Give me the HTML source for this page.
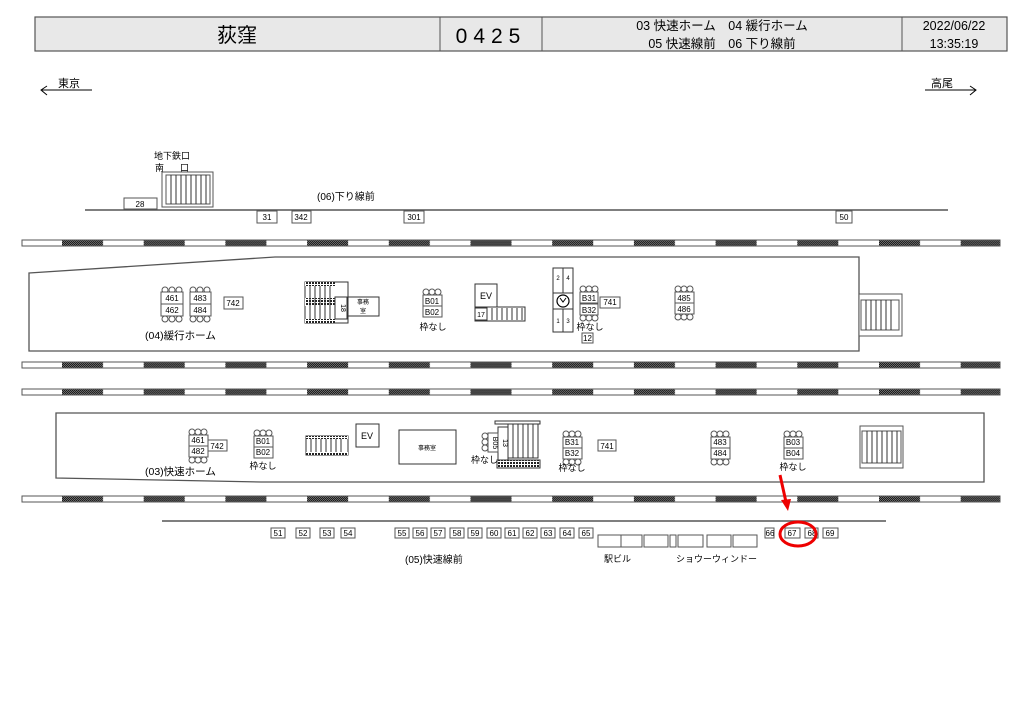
<!DOCTYPE html>
<html><head><meta charset="utf-8"><style>
html,body{margin:0;padding:0;background:#fff}
svg{display:block}
text{font-family:"Liberation Sans","Noto Sans CJK JP",sans-serif;fill:#000}
</style></head><body>
<svg width="1024" height="724" viewBox="0 0 1024 724" xmlns="http://www.w3.org/2000/svg">
<defs>
<pattern id="chk" patternUnits="userSpaceOnUse" width="2" height="2">
<rect width="2" height="2" fill="#777"/><rect width="1" height="1" fill="#111"/><rect x="1" y="1" width="1" height="1" fill="#111"/>
</pattern>
<pattern id="trk" patternUnits="userSpaceOnUse" x="62" y="0" width="81.7" height="10">
<rect x="0" y="0" width="41" height="10" fill="url(#chk)"/>
</pattern>
<pattern id="hatch" patternUnits="userSpaceOnUse" width="3" height="3">
<rect width="3" height="3" fill="#fff"/><rect width="2" height="2" fill="#222"/>
</pattern>
</defs>
<!-- header -->
<rect x="35" y="17" width="972" height="34" fill="#e8e8e8" stroke="#555" stroke-width="1.2"/>
<line x1="440" y1="17" x2="440" y2="51" stroke="#555"/>
<line x1="542" y1="17" x2="542" y2="51" stroke="#555"/>
<line x1="902" y1="17" x2="902" y2="51" stroke="#555"/>
<text x="237" y="42" font-size="20" text-anchor="middle">荻窪</text>
<text x="491" y="43" font-size="21" text-anchor="middle" letter-spacing="6">0425</text>
<text x="722" y="30" font-size="12.5" text-anchor="middle">03 快速ホーム　04 緩行ホーム</text>
<text x="722" y="48" font-size="12.5" text-anchor="middle">05 快速線前　06 下り線前</text>
<text x="954" y="30" font-size="12.5" text-anchor="middle">2022/06/22</text>
<text x="954" y="48" font-size="12.5" text-anchor="middle">13:35:19</text>
<!-- direction -->
<text x="58" y="87" font-size="11">東京</text>
<line x1="42" y1="90" x2="92" y2="90" stroke="#000"/>
<polyline points="47,86 41,90 47,95" fill="none" stroke="#000"/>
<text x="931" y="87" font-size="11">高尾</text>
<line x1="925" y1="90" x2="976" y2="90" stroke="#000"/>
<polyline points="970,86 976,90 970,95" fill="none" stroke="#000"/>
<!-- subway exit -->
<text x="154" y="159" font-size="9">地下鉄口</text>
<text x="155" y="171" font-size="9">南</text><text x="180" y="171" font-size="9">口</text>
<rect x="162" y="172" width="51" height="35" fill="#fff" stroke="#555"/>
<rect x="166" y="175" width="44" height="29" fill="none" stroke="#555"/>
<g stroke="#333"><line x1="171" y1="175" x2="171" y2="204"/><line x1="176" y1="175" x2="176" y2="204"/><line x1="181" y1="175" x2="181" y2="204"/><line x1="186" y1="175" x2="186" y2="204"/><line x1="191" y1="175" x2="191" y2="204"/><line x1="196" y1="175" x2="196" y2="204"/><line x1="201" y1="175" x2="201" y2="204"/><line x1="206" y1="175" x2="206" y2="204"/></g>
<rect x="124" y="198" width="33" height="11" fill="#fff" stroke="#555"/>
<text x="140" y="207" font-size="8" text-anchor="middle">28</text>
<line x1="85" y1="210" x2="948" y2="210" stroke="#555" stroke-width="1.5"/>
<text x="317" y="200" font-size="10">(06)下り線前</text>
<g font-size="8" text-anchor="middle">
<rect x="257" y="211" width="20" height="12" fill="#fff" stroke="#555"/><text x="267" y="220">31</text>
<rect x="292" y="211" width="19" height="12" fill="#fff" stroke="#555"/><text x="301" y="220">342</text>
<rect x="404" y="211" width="20" height="12" fill="#fff" stroke="#555"/><text x="414" y="220">301</text>
<rect x="836" y="211" width="16" height="12" fill="#fff" stroke="#555"/><text x="844" y="220">50</text>
</g>
<!-- tracks -->
<g stroke="#555" stroke-width="1">
<rect x="22" y="240" width="978" height="6" fill="#fff"/><rect x="22" y="240" width="978" height="6" fill="url(#trk)"/>
<rect x="22" y="362" width="978" height="6" fill="#fff"/><rect x="22" y="362" width="978" height="6" fill="url(#trk)"/>
<rect x="22" y="389" width="978" height="6" fill="#fff"/><rect x="22" y="389" width="978" height="6" fill="url(#trk)"/>
<rect x="22" y="496" width="978" height="6" fill="#fff"/><rect x="22" y="496" width="978" height="6" fill="url(#trk)"/>
</g>
<!-- platform 04 -->
<polygon points="29,273 275,257 859,257 859,351 29,351" fill="#fff" stroke="#555" stroke-width="1.3"/>
<rect x="859" y="294" width="43" height="42" fill="#fff" stroke="#555"/>
<rect x="861" y="300" width="38" height="30" fill="none" stroke="#555"/>
<g stroke="#333"><line x1="866" y1="300" x2="866" y2="330"/><line x1="871" y1="300" x2="871" y2="330"/><line x1="876" y1="300" x2="876" y2="330"/><line x1="881" y1="300" x2="881" y2="330"/><line x1="886" y1="300" x2="886" y2="330"/><line x1="891" y1="300" x2="891" y2="330"/></g>

<g font-size="8" text-anchor="middle" stroke-width="1">
<g fill="#fff" stroke="#555">
<circle cx="165" cy="290" r="3"/><circle cx="172" cy="290" r="3"/><circle cx="179" cy="290" r="3"/>
<circle cx="165" cy="319" r="3"/><circle cx="172" cy="319" r="3"/><circle cx="179" cy="319" r="3"/>
<rect x="161" y="292" width="22" height="12"/><rect x="161" y="304" width="22" height="12"/>
<circle cx="193" cy="290" r="3"/><circle cx="200" cy="290" r="3"/><circle cx="207" cy="290" r="3"/>
<circle cx="193" cy="319" r="3"/><circle cx="200" cy="319" r="3"/><circle cx="207" cy="319" r="3"/>
<rect x="190" y="292" width="21" height="12"/><rect x="190" y="304" width="21" height="12"/>
<rect x="224" y="297" width="19" height="12"/>
</g>
<text x="172" y="301">461</text><text x="172" y="313">462</text>
<text x="200" y="301">483</text><text x="200" y="313">484</text>
<text x="233" y="306">742</text>
</g>
<text x="145" y="339" font-size="10.5">(04)緩行ホーム</text>
<!-- stairs 18 -->
<rect x="305" y="282" width="43" height="41" fill="#fff" stroke="#333"/>
<rect x="305" y="282" width="30" height="4" fill="url(#hatch)"/><rect x="305" y="319" width="30" height="4" fill="url(#hatch)"/>
<rect x="305" y="298" width="30" height="8" fill="url(#hatch)"/>
<g stroke="#333"><line x1="310" y1="286" x2="310" y2="319"/><line x1="315" y1="286" x2="315" y2="319"/><line x1="320" y1="286" x2="320" y2="319"/><line x1="325" y1="286" x2="325" y2="319"/><line x1="330" y1="286" x2="330" y2="319"/></g>
<rect x="335" y="297" width="12" height="22" fill="#fff" stroke="#333"/>
<text x="341" y="308" font-size="7" text-anchor="middle" transform="rotate(90 341 308)">18</text>
<rect x="348" y="297" width="31" height="19" fill="#fff" stroke="#333"/>
<text x="363" y="304" font-size="6" text-anchor="middle">事務</text><text x="363" y="313" font-size="6" text-anchor="middle">室</text>
<!-- B01/B02 upper -->
<g fill="#fff" stroke="#555"><circle cx="426" cy="292" r="3"/><circle cx="432" cy="292" r="3"/><circle cx="438" cy="292" r="3"/>
<rect x="423" y="295" width="19" height="11"/><rect x="423" y="306" width="19" height="11"/></g>
<text x="432" y="304" font-size="8" text-anchor="middle">B01</text><text x="432" y="315" font-size="8" text-anchor="middle">B02</text>
<text x="433" y="330" font-size="9" text-anchor="middle">枠なし</text>
<!-- EV -->
<rect x="475" y="284" width="22" height="23" fill="#fff" stroke="#333"/><text x="486" y="299" font-size="9" text-anchor="middle">EV</text>
<rect x="475" y="307" width="50" height="14" fill="#fff" stroke="#333"/>
<rect x="475" y="308" width="12" height="12" fill="#fff" stroke="#333"/><text x="481" y="317" font-size="7" text-anchor="middle">17</text>
<g stroke="#333"><line x1="492" y1="308" x2="492" y2="320"/><line x1="497" y1="308" x2="497" y2="320"/><line x1="502" y1="308" x2="502" y2="320"/><line x1="507" y1="308" x2="507" y2="320"/><line x1="512" y1="308" x2="512" y2="320"/><line x1="517" y1="308" x2="517" y2="320"/><line x1="522" y1="308" x2="522" y2="320"/></g>
<!-- clock column -->
<rect x="553" y="268" width="20" height="64" fill="#fff" stroke="#333"/>
<line x1="563" y1="268" x2="563" y2="293" stroke="#333"/><line x1="563" y1="309" x2="563" y2="332" stroke="#333"/>
<rect x="553" y="293" width="20" height="16" fill="#fff" stroke="#333"/>
<circle cx="563" cy="301" r="6" fill="#fff" stroke="#000" stroke-width="1.2"/><polyline points="560,298 563,302 566,298" fill="none" stroke="#000"/>
<text x="558" y="280" font-size="6" text-anchor="middle">2</text><text x="568" y="280" font-size="6" text-anchor="middle">4</text>
<text x="558" y="323" font-size="6" text-anchor="middle">1</text><text x="568" y="323" font-size="6" text-anchor="middle">3</text>
<g fill="#fff" stroke="#555"><circle cx="583" cy="289" r="3"/><circle cx="589" cy="289" r="3"/><circle cx="595" cy="289" r="3"/>
<circle cx="583" cy="318" r="3"/><circle cx="589" cy="318" r="3"/><circle cx="595" cy="318" r="3"/>
<rect x="580" y="292" width="18" height="11"/><rect x="580" y="304" width="18" height="11"/>
<rect x="600" y="297" width="20" height="11"/><rect x="582" y="333" width="11" height="10"/></g>
<text x="589" y="301" font-size="8" text-anchor="middle">B31</text><text x="589" y="313" font-size="8" text-anchor="middle">B32</text>
<text x="610" y="305" font-size="8" text-anchor="middle">741</text>
<text x="590" y="330" font-size="9" text-anchor="middle">枠なし</text><text x="587.5" y="341" font-size="8" text-anchor="middle">12</text>
<g fill="#fff" stroke="#555"><circle cx="678" cy="289" r="3"/><circle cx="684" cy="289" r="3"/><circle cx="690" cy="289" r="3"/>
<circle cx="678" cy="317" r="3"/><circle cx="684" cy="317" r="3"/><circle cx="690" cy="317" r="3"/>
<rect x="675" y="292" width="19" height="11"/><rect x="675" y="303" width="19" height="11"/></g>
<text x="684" y="301" font-size="8" text-anchor="middle">485</text><text x="684" y="312" font-size="8" text-anchor="middle">486</text>

<!-- platform 03 -->
<polygon points="56,413 984,413 984,482 261,482 56,478" fill="#fff" stroke="#555" stroke-width="1.3"/>
<g fill="#fff" stroke="#555"><circle cx="192" cy="432" r="3"/><circle cx="198" cy="432" r="3"/><circle cx="204" cy="432" r="3"/>
<circle cx="192" cy="460" r="3"/><circle cx="198" cy="460" r="3"/><circle cx="204" cy="460" r="3"/>
<rect x="189" y="435" width="19" height="11"/><rect x="189" y="446" width="19" height="11"/>
<rect x="208" y="440" width="19" height="11"/></g>
<text x="198" y="443" font-size="8" text-anchor="middle">461</text><text x="198" y="454" font-size="8" text-anchor="middle">482</text>
<text x="217" y="449" font-size="8" text-anchor="middle">742</text>
<g fill="#fff" stroke="#555"><circle cx="257" cy="433" r="3"/><circle cx="263" cy="433" r="3"/><circle cx="269" cy="433" r="3"/>
<rect x="254" y="436" width="19" height="11"/><rect x="254" y="447" width="19" height="11"/></g>
<text x="263" y="444" font-size="8" text-anchor="middle">B01</text><text x="263" y="455" font-size="8" text-anchor="middle">B02</text>
<text x="263" y="469" font-size="9" text-anchor="middle">枠なし</text>
<text x="145" y="475" font-size="10.5">(03)快速ホーム</text>
<rect x="306" y="436" width="42" height="19" fill="#fff" stroke="#333"/>
<rect x="306" y="436" width="42" height="3" fill="url(#hatch)"/><rect x="306" y="452" width="42" height="3" fill="url(#hatch)"/>
<g stroke="#333"><line x1="311" y1="439" x2="311" y2="452"/><line x1="316" y1="439" x2="316" y2="452"/><line x1="321" y1="439" x2="321" y2="452"/><line x1="326" y1="439" x2="326" y2="452"/><line x1="331" y1="439" x2="331" y2="452"/><line x1="336" y1="439" x2="336" y2="452"/><line x1="341" y1="439" x2="341" y2="452"/></g>
<rect x="356" y="424" width="23" height="23" fill="#fff" stroke="#333"/><text x="367" y="439" font-size="9" text-anchor="middle">EV</text>
<rect x="399" y="430" width="57" height="34" fill="#fff" stroke="#333"/><text x="427" y="450" font-size="6" text-anchor="middle">事務室</text>
<!-- escalator 13 -->
<rect x="495" y="421" width="45" height="3" fill="#fff" stroke="#333"/>
<rect x="508" y="424" width="30" height="34" fill="#fff" stroke="#333"/>
<g stroke="#333"><line x1="513" y1="424" x2="513" y2="458"/><line x1="518" y1="424" x2="518" y2="458"/><line x1="523" y1="424" x2="523" y2="458"/><line x1="528" y1="424" x2="528" y2="458"/><line x1="533" y1="424" x2="533" y2="458"/></g>
<rect x="498" y="427" width="10" height="33" fill="#fff" stroke="#333"/>
<text x="503" y="443" font-size="7" text-anchor="middle" transform="rotate(90 503 443)">13</text>
<rect x="497" y="460" width="43" height="8" fill="url(#hatch)" stroke="#333"/>
<g fill="#fff" stroke="#555"><circle cx="485" cy="436" r="3"/><circle cx="485" cy="442" r="3"/><circle cx="485" cy="448" r="3"/>
<rect x="488" y="433" width="10" height="19"/></g>
<text x="493" y="443" font-size="7" text-anchor="middle" transform="rotate(90 493 443)">B05</text>
<text x="471" y="463" font-size="9">枠なし</text>
<g fill="#fff" stroke="#555"><circle cx="566" cy="434" r="3"/><circle cx="572" cy="434" r="3"/><circle cx="578" cy="434" r="3"/>
<circle cx="566" cy="462" r="3"/><circle cx="572" cy="462" r="3"/><circle cx="578" cy="462" r="3"/>
<rect x="563" y="437" width="19" height="11"/><rect x="563" y="448" width="19" height="11"/>
<rect x="598" y="440" width="18" height="11"/></g>
<text x="572" y="445" font-size="8" text-anchor="middle">B31</text><text x="572" y="456" font-size="8" text-anchor="middle">B32</text>
<text x="572" y="471" font-size="9" text-anchor="middle">枠なし</text>
<text x="607" y="449" font-size="8" text-anchor="middle">741</text>
<g fill="#fff" stroke="#555"><circle cx="714" cy="434" r="3"/><circle cx="720" cy="434" r="3"/><circle cx="726" cy="434" r="3"/>
<circle cx="714" cy="462" r="3"/><circle cx="720" cy="462" r="3"/><circle cx="726" cy="462" r="3"/>
<rect x="711" y="437" width="19" height="11"/><rect x="711" y="448" width="19" height="11"/></g>
<text x="720" y="445" font-size="8" text-anchor="middle">483</text><text x="720" y="456" font-size="8" text-anchor="middle">484</text>
<g fill="#fff" stroke="#555"><circle cx="787" cy="434" r="3"/><circle cx="793" cy="434" r="3"/><circle cx="799" cy="434" r="3"/>
<rect x="784" y="437" width="19" height="11"/><rect x="784" y="448" width="19" height="11"/></g>
<text x="793" y="445" font-size="8" text-anchor="middle">B03</text><text x="793" y="456" font-size="8" text-anchor="middle">B04</text>
<text x="793" y="470" font-size="9" text-anchor="middle">枠なし</text>
<rect x="860" y="426" width="43" height="42" fill="#fff" stroke="#555"/>
<rect x="862" y="431" width="39" height="32" fill="none" stroke="#555"/>
<g stroke="#333"><line x1="867" y1="431" x2="867" y2="463"/><line x1="872" y1="431" x2="872" y2="463"/><line x1="877" y1="431" x2="877" y2="463"/><line x1="882" y1="431" x2="882" y2="463"/><line x1="887" y1="431" x2="887" y2="463"/><line x1="892" y1="431" x2="892" y2="463"/><line x1="897" y1="431" x2="897" y2="463"/></g>

<!-- bottom line & boxes -->
<line x1="162" y1="521" x2="886" y2="521" stroke="#555" stroke-width="1.5"/>
<g font-size="8" text-anchor="middle">
<g fill="#fff" stroke="#555">
<rect x="271" y="528" width="14" height="10"/><rect x="296" y="528" width="14" height="10"/><rect x="320" y="528" width="14" height="10"/><rect x="341" y="528" width="14" height="10"/>
<rect x="395" y="528" width="14" height="10"/><rect x="413" y="528" width="14" height="10"/><rect x="431" y="528" width="14" height="10"/><rect x="450" y="528" width="14" height="10"/><rect x="468" y="528" width="14" height="10"/><rect x="487" y="528" width="14" height="10"/><rect x="505" y="528" width="14" height="10"/><rect x="523" y="528" width="14" height="10"/><rect x="541" y="528" width="14" height="10"/><rect x="560" y="528" width="14" height="10"/><rect x="579" y="528" width="14" height="10"/>
<rect x="765" y="528" width="9" height="10"/><rect x="785" y="528" width="15" height="10"/><rect x="805" y="528" width="13" height="10"/><rect x="823" y="528" width="15" height="10"/>
<rect x="598" y="535" width="23" height="12"/><rect x="621" y="535" width="21" height="12"/><rect x="644" y="535" width="24" height="12"/><rect x="670" y="535" width="6" height="12"/><rect x="678" y="535" width="25" height="12"/><rect x="707" y="535" width="24" height="12"/><rect x="733" y="535" width="24" height="12"/>
</g>
<text x="278" y="536">51</text><text x="303" y="536">52</text><text x="327" y="536">53</text><text x="348" y="536">54</text>
<text x="402" y="536">55</text><text x="420" y="536">56</text><text x="438" y="536">57</text><text x="457" y="536">58</text><text x="475" y="536">59</text><text x="494" y="536">60</text><text x="512" y="536">61</text><text x="530" y="536">62</text><text x="548" y="536">63</text><text x="567" y="536">64</text><text x="586" y="536">65</text>
<text x="770" y="536">66</text><text x="792" y="536">67</text><text x="812" y="536">68</text><text x="830" y="536">69</text>
</g>
<text x="405" y="563" font-size="10">(05)快速線前</text>
<text x="604" y="562" font-size="9">駅ビル</text>
<text x="676" y="562" font-size="9">ショウーウィンドー</text>
<!-- red highlight -->
<line x1="780" y1="475" x2="786" y2="502" stroke="#e00" stroke-width="3"/>
<polygon points="781,500 791,499 788,511" fill="#e00"/>
<ellipse cx="798" cy="534" rx="18" ry="12" fill="none" stroke="#e00" stroke-width="3"/>
</svg>
</body></html>
